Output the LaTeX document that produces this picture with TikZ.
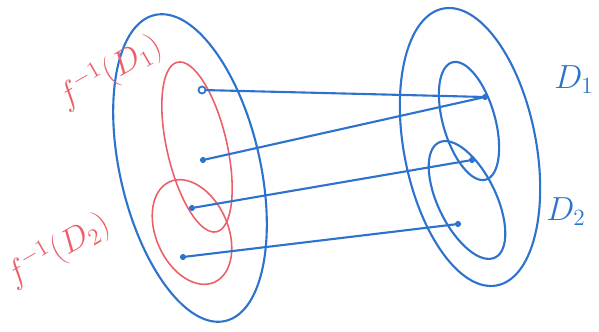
\documentclass[tikz,border=0pt]{standalone}
\usepackage{amsmath,amssymb}
\usepackage{tikz}
\usetikzlibrary{calc}
\usepackage{xcolor}

\definecolor{penblue}{RGB}{45,115,205}
\definecolor{penred}{RGB}{235,95,105}

\begin{document}
\begin{tikzpicture}[x=0.4mm,y=-0.4mm,
		blueline/.style={penblue,line width=2.4pt,line cap=round},
		redline/.style={penred,line width=1.8pt},
		pt/.style={circle,fill=penblue,inner sep=0pt,minimum size=7pt},
		lbl/.style={font=\LARGE,scale=2.2,transform shape}]
			
			\useasboundingbox (0,0) rectangle (599,332);
			
			% domain and its two preimages
			\draw[blueline,rotate around={13:(190,168)}] (190,168) ellipse (70 and 157);
			\draw[redline,rotate around={13:(197,147)}] (197,147) ellipse (30 and 87);
			\draw[redline,rotate around={24:(192,232)}] (192,232) ellipse (36 and 55);
			
			% codomain with D1 and D2
			\draw[blueline,rotate around={11:(470,147)}] (470,147) ellipse (66 and 141);
			\draw[blueline,rotate around={16:(469,121)}] (469,121) ellipse (26 and 61);
			\draw[blueline,rotate around={26:(467,200)}] (467,200) ellipse (29 and 64);
			
			% points
			\node[pt,fill=none,draw=penblue,line width=2pt,minimum size=8pt] (a1) at (202,90) {};
			\node[pt] (a2) at (203,160) {};
			\node[pt] (a3) at (192,208) {};
			\node[pt] (a4) at (183,257) {};
			\node[pt] (b1) at (485,97) {};
			\node[pt] (b2) at (472,160) {};
			\node[pt] (b3) at (458,224) {};
			
			% the map
			\draw[blueline] (a1) -- (b1);
			\draw[blueline] (a2) -- (b1);
			\draw[blueline] (a3) -- (b2);
			\draw[blueline] (a4) -- (b3);
			
			% labels
			\node[lbl,penred,rotate=30] (l1) at (110,72) {$f^{-1}(D_1)$};
			\node[lbl,penred,rotate=30] (l2) at (58,250) {$f^{-1}(D_2)$};
			\node[lbl,penblue] (l3) at (574,80) {$D_1$};
			\node[lbl,penblue] (l4) at (566,212) {$D_2$};
			
		\end{tikzpicture}
\end{document}
